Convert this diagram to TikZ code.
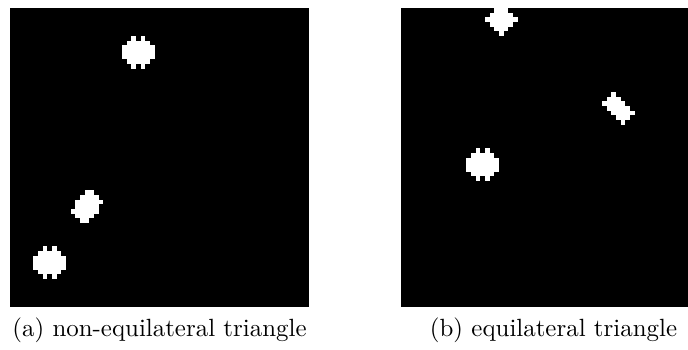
\documentclass[tikz,border=0pt]{standalone}
\usepackage{graphicx}
\begin{document}
\begin{tikzpicture}[x=1pt,y=-1pt,
  panel/.style={fill=black},
  blob/.style={fill=white},
  captext/.style={anchor=base,inner sep=0pt,font=\fontsize{10}{12}\selectfont}]
\useasboundingbox (0,0) rectangle (688,349);
\clip (0,0) rectangle (688,349);
\def\s{4.671875}
% panels
\fill[panel] (10,8) rectangle (309,307);
\fill[panel] (401,8) rectangle (700,307);
% blobs (cells of a 64x64 grid)
\foreach \ox/\a/\b/\r in {
  10/26/26/6, 10/28/28/6, 10/25/29/7, 10/24/30/8, 10/24/30/9, 10/24/30/10, 10/25/29/11, 10/26/26/12, 10/28/28/12,
  10/7/7/51, 10/9/9/51, 10/6/10/52, 10/5/11/53, 10/5/11/54, 10/5/11/55, 10/6/10/56, 10/7/7/57, 10/9/9/57,
  10/16/17/39, 10/15/18/40, 10/14/19/41, 10/14/18/42, 10/13/18/43, 10/14/17/44, 10/15/16/45,
  401/16/16/30, 401/18/18/30, 401/15/19/31, 401/14/20/32, 401/14/20/33, 401/14/20/34, 401/15/19/35, 401/16/16/36, 401/18/18/36,
  401/45/45/18, 401/44/46/19, 401/43/47/20, 401/44/48/21, 401/45/49/22, 401/46/48/23, 401/47/47/24,
  401/20/22/0, 401/19/23/1, 401/18/24/2, 401/19/23/3, 401/20/22/4, 401/21/21/5}
  \fill[blob] ({\ox+\a*\s},{8+\r*\s}) rectangle ({\ox+(\b+1)*\s},{8+(\r+1)*\s});
% captions
\node[captext] (capa) at (159.5,336) {\scalebox{2.49}{(a) non-equilateral triangle}};
\node[captext] (capb) at (553.5,336) {\scalebox{2.49}{(b) equilateral triangle}};
\end{tikzpicture}
\end{document}
